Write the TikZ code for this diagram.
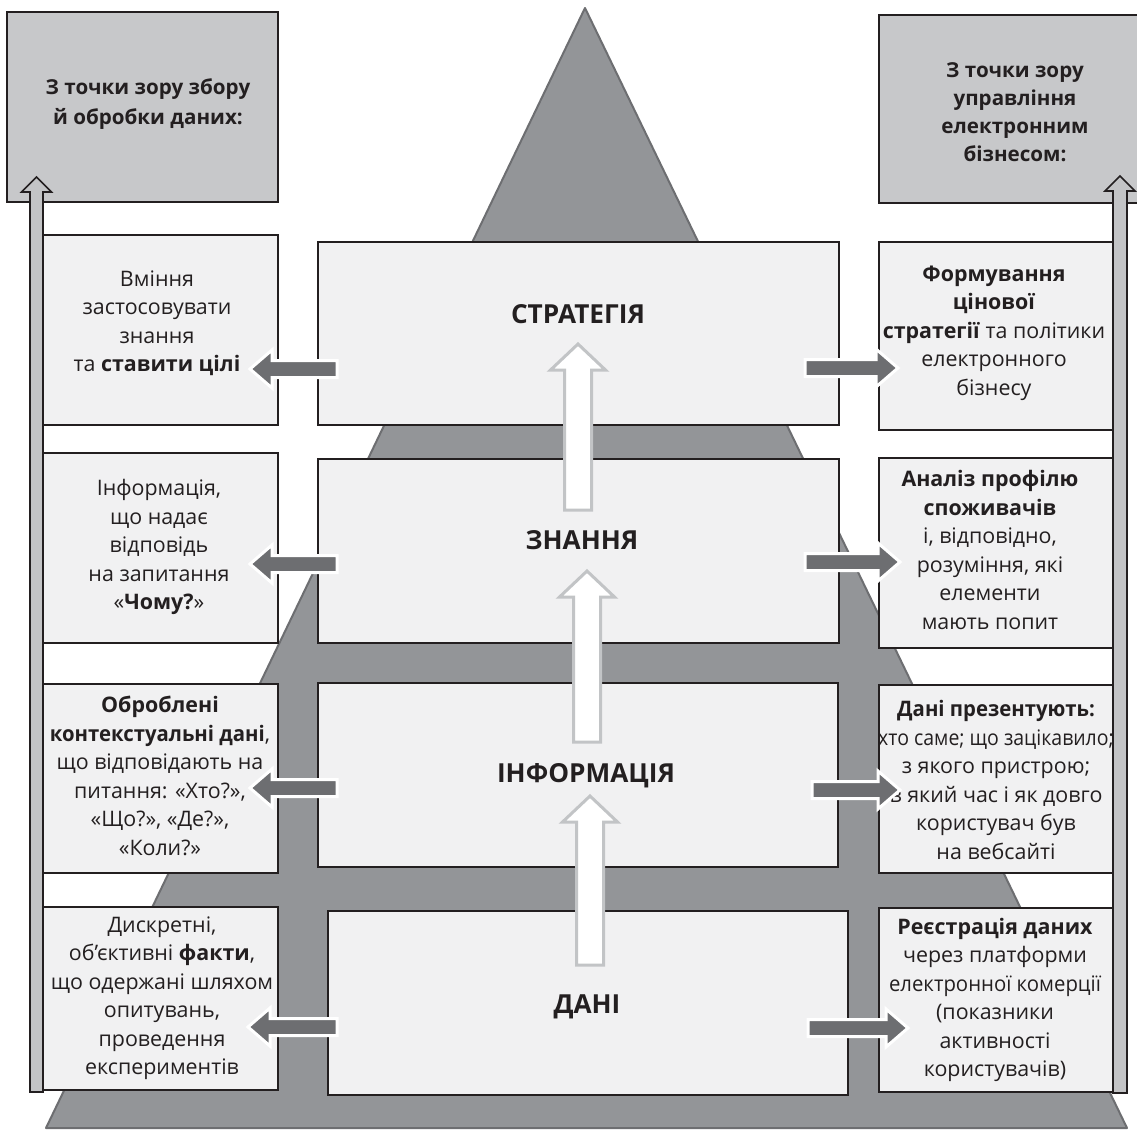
\documentclass[tikz,border=0pt]{standalone}
\usepackage{fontspec}
\setmainfont{Open Sans}
\newfontfamily\condfont[FakeStretch=0.91]{Open Sans}
\newfontfamily\semicondfont[FakeStretch=0.95]{Open Sans}
\usetikzlibrary{calc}
\definecolor{boxfill}{HTML}{F1F1F2}
\definecolor{titlefill}{HTML}{C7C8CA}
\definecolor{pyrfill}{HTML}{939598}
\definecolor{pyredge}{HTML}{6D6E71}
\definecolor{harrowfill}{HTML}{6D6E71}
\definecolor{sidefill}{HTML}{C3C4C6}
\definecolor{cout}{HTML}{C2C4C6}
\definecolor{ink}{HTML}{231F20}
% #1 style, #2 from, #3 to, #4 half shaft, #5 half head, #6 head length
\newcommand{\blockarr}[6]{%
  \coordinate (hb) at ($(#3)!#6!(#2)$);
  \draw[#1] ($(#2)!#4!90:(#3)$) -- ($(hb)!#4!90:(#3)$) -- ($(hb)!#5!90:(#3)$)
    -- (#3) -- ($(hb)!#5!-90:(#3)$) -- ($(hb)!#4!-90:(#3)$) -- ($(#2)!#4!-90:(#3)$) -- cycle;
}
\begin{document}
\begin{tikzpicture}[x=0.5pt,y=-0.5pt,
  box/.style={draw=ink, line width=1pt, fill=boxfill, inner sep=0pt, outer sep=0pt},
  tbox/.style={draw=ink, line width=1pt, fill=titlefill, inner sep=0pt, outer sep=0pt},
  txt/.style={align=center, text=ink, inner sep=0pt, font=\fontsize{10.7pt}{14.25pt}\selectfont},
  ttl/.style={align=center, text=ink, inner sep=0pt},
  lvl/.style={anchor=base, text=ink, inner sep=0pt, font=\bfseries\fontsize{13.1pt}{16pt}\selectfont},
  harrow/.style={fill=harrowfill, draw=white, line width=1.5pt, line join=miter},
  carrow/.style={fill=white, draw=cout, line width=1.5pt, line join=miter},
  sarrow/.style={fill=sidefill, draw=ink, line width=0.8pt, line join=miter}]
\useasboundingbox (0,0) rectangle (1137,1131);
\clip (0,0) rectangle (1137,1131);
\fill[white] (0,0) rectangle (1137,1131);

% pyramid
\coordinate (apex) at (585,8);
\coordinate (bl) at (46,1128);
\coordinate (br) at (1127,1128);
\filldraw[fill=pyrfill, draw=pyredge, line width=1pt, line join=round] (apex) -- (br) -- (bl) -- cycle;

% title boxes
\node[tbox, minimum width=135.5pt, minimum height=95pt] (t1) at (142.5,107) {};
\node[tbox, minimum width=133pt, minimum height=94pt] (t2) at (1012,109) {};
\node[ttl, font=\bfseries\fontsize{10.3pt}{15pt}\selectfont] (t1txt) at (148,104) {З точки зору збору\\й обробки даних:};
\node[ttl, font=\bfseries\fontsize{10.3pt}{13.9pt}\selectfont] (t2txt) at (1015,112) {З точки зору\\управління\\електронним\\бізнесом:};

% central boxes
\node[box, minimum width=260.5pt, minimum height=91.5pt] (c1) at (578.5,333.5) {};
\node[box, minimum width=260.5pt, minimum height=92pt] (c2) at (578.5,551) {};
\node[box, minimum width=260pt, minimum height=92pt] (c3) at (578,775) {};
\node[box, minimum width=260pt, minimum height=92pt] (c4) at (588,1003) {};

% left boxes
\node[box, minimum width=117.5pt, minimum height=95pt] (l1) at (160.5,330) {};
\node[box, minimum width=117.5pt, minimum height=95pt] (l2) at (160.5,548) {};
\node[box, minimum width=117.5pt, minimum height=94.5pt] (l3) at (160.5,778.5) {};
\node[box, minimum width=117.5pt, minimum height=91.5pt] (l4) at (160.5,998.5) {};

% right boxes
\node[box, minimum width=117pt, minimum height=94pt] (r1) at (996,336) {};
\node[box, minimum width=117pt, minimum height=95pt] (r2) at (996,553) {};
\node[box, minimum width=117pt, minimum height=94pt] (r3) at (996,779) {};
\node[box, minimum width=117pt, minimum height=92pt] (r4) at (996,1000) {};

% level labels
\node[lvl] (lab1) at (578,323) {СТРАТЕГІЯ};
\node[lvl] (lab2) at (582,549) {ЗНАННЯ};
\node[lvl] (lab3) at (586,782) {ІНФОРМАЦІЯ};
\node[lvl] (lab4) at (587,1013) {ДАНІ};

% left texts
\node[txt] (l1txt) at (157,323) {Вміння\\застосовувати\\знання\\та \textbf{ставити цілі}};
\node[txt] (l2txt) at (159,547) {Інформація,\\що надає\\відповідь\\на запитання\\«\textbf{Чому?}»};
\node[txt] (l3txt) at (160,776) {\textbf{Оброблені}\\{\semicondfont\textbf{контекстуальні дані}},\\що відповідають на\\питання: «Хто?»,\\«Що?», «Де?»,\\«Коли?»};
\node[txt] (l4txt) at (162,998) {Дискретні,\\об’єктивні \textbf{факти},\\що одержані шляхом\\опитувань,\\проведення\\експериментів};

% right texts
\node[txt] (r1txt) at (994,333) {\textbf{Формування}\\\textbf{цінової}\\\textbf{стратегії} та політики\\електронного\\бізнесу};
\node[txt] (r2txt) at (990,550) {\textbf{Аналіз профілю}\\\textbf{споживачів}\\і, відповідно,\\розуміння, які\\елементи\\мають попит};
\node[txt] (r3txt) at (996,780) {{\semicondfont\textbf{Дані презентують:}}\\{\condfont хто саме; що зацікавило;}\\з якого пристрою;\\в який час і як довго\\користувач був\\на вебсайті};
\node[txt] (r4txt) at (995,1000) {\textbf{Реєстрація даних}\\через платформи\\{\semicondfont електронної комерції}\\(показники\\активності\\користувачів)};

% side vertical arrows
\coordinate (sl0) at (36.5,1092);
\coordinate (sl1) at (36.5,177);
\coordinate (sr0) at (1120,1093);
\coordinate (sr1) at (1120,176);
\blockarr{sarrow}{sl0}{sl1}{3.25pt}{7.5pt}{7.5pt}
\blockarr{sarrow}{sr0}{sr1}{3.5pt}{7.5pt}{7.5pt}

% central upward arrows
\coordinate (ca0) at (590,965);
\coordinate (ca1) at (590,796);
\coordinate (cb0) at (587,742);
\coordinate (cb1) at (587,571);
\coordinate (cc0) at (578,510);
\coordinate (cc1) at (578,344);
\blockarr{carrow}{ca0}{ca1}{6.75pt}{13.75pt}{13pt}
\blockarr{carrow}{cb0}{cb1}{6.75pt}{13.75pt}{13pt}
\blockarr{carrow}{cc0}{cc1}{6.75pt}{13.75pt}{13pt}

% horizontal arrows to the left
\coordinate (hl1a) at (337,369); \coordinate (hl1b) at (250,369);
\coordinate (hl2a) at (337,564); \coordinate (hl2b) at (250,564);
\coordinate (hl3a) at (337,788); \coordinate (hl3b) at (250,788);
\coordinate (hl4a) at (337,1027); \coordinate (hl4b) at (248,1027);
\blockarr{harrow}{hl1a}{hl1b}{4.25pt}{9.5pt}{11pt}
\blockarr{harrow}{hl2a}{hl2b}{4.25pt}{9.5pt}{11pt}
\blockarr{harrow}{hl3a}{hl3b}{4.25pt}{9.5pt}{11pt}
\blockarr{harrow}{hl4a}{hl4b}{4.25pt}{9.5pt}{11pt}

% horizontal arrows to the right
\coordinate (hr1a) at (805,368); \coordinate (hr1b) at (898,368);
\coordinate (hr2a) at (805,562); \coordinate (hr2b) at (900,562);
\coordinate (hr3a) at (812,790); \coordinate (hr3b) at (900,790);
\coordinate (hr4a) at (808,1028); \coordinate (hr4b) at (908,1028);
\blockarr{harrow}{hr1a}{hr1b}{4.25pt}{9.5pt}{11pt}
\blockarr{harrow}{hr2a}{hr2b}{4.25pt}{9.5pt}{11pt}
\blockarr{harrow}{hr3a}{hr3b}{4.25pt}{9.5pt}{11pt}
\blockarr{harrow}{hr4a}{hr4b}{4.25pt}{9.5pt}{11pt}
\end{tikzpicture}
\end{document}
